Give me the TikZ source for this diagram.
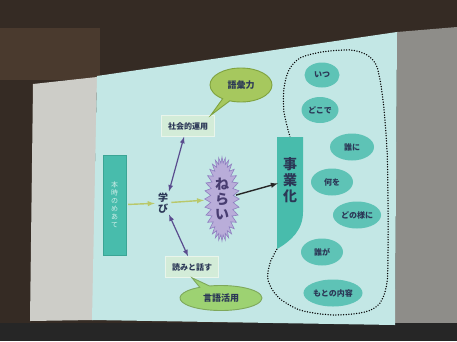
\documentclass[tikz,border=0pt]{standalone}
\usepackage{fontspec}
\setmainfont{Noto Sans CJK JP}
\usepackage{tikz}
\usetikzlibrary{shapes.geometric,shapes.symbols,shapes.callouts,positioning}
\definecolor{room}{HTML}{352B24}
\definecolor{wall}{HTML}{4A3A2E}
\definecolor{board}{HTML}{CDCDC8}
\definecolor{boardside}{HTML}{8E8D89}
\definecolor{slide}{HTML}{C3E7E5}
\definecolor{ink}{HTML}{2B3756}
\definecolor{tealfill}{HTML}{48BCAC}
\definecolor{tealedge}{HTML}{3AA595}
\definecolor{cuefill}{HTML}{5EC3B6}
\definecolor{boxfill}{HTML}{D3ECD8}
\definecolor{bubblefill}{HTML}{A6C85E}
\definecolor{bubbleedge}{HTML}{7FA23E}
\definecolor{lowfill}{HTML}{9DD272}
\definecolor{starfill}{HTML}{B9ADD9}
\definecolor{staredge}{HTML}{8E7FC0}
\definecolor{twin}{HTML}{5A4C8E}
\definecolor{hint}{HTML}{B9C86A}
\definecolor{loop}{HTML}{2F3D66}

\begin{document}
\begin{tikzpicture}[x=1pt, y=-1pt, line width=0.6pt, >=latex,
    every node/.style={font=\fontsize{8}{8.6}\selectfont, text=ink, inner sep=1pt, align=center},
    tealbox/.style={rectangle, fill=tealfill, draw=tealedge, line width=0.4pt},
    wordbox/.style={rectangle, fill=boxfill, draw=white!50!boxfill, minimum width=53pt, minimum height=21pt},
    cue/.style={ellipse, fill=cuefill, minimum width=40pt, minimum height=27pt, font=\fontsize{8}{8.6}\selectfont\bfseries},
    bubble/.style={ellipse callout, draw=bubbleedge, line width=0.9pt, font=\fontsize{9}{9}\selectfont\bfseries},
    flow/.style={->, line width=1.4pt, shorten >=2pt, shorten <=2pt}]
    \useasboundingbox (0,0) rectangle (457,341);

    % Room, whiteboard and screen
    \fill[room] (0,0) rectangle (457,341);
    \fill[wall] (0,28) rectangle (100,80);
    \fill[board] (33,84) -- (97,77) -- (93,320) -- (30,321) -- cycle;
    \fill[boardside] (397,32) -- (457,27) -- (457,324) -- (395,325) -- cycle;
    \fill[black!85] (0,323) rectangle (457,341);
    \fill[slide] (97,76) -- (397,32) -- (395,325) -- (92,320) -- cycle;

    % Left: starting point
    \node[tealbox, minimum width=23pt, minimum height=100pt, font=\fontsize{7}{8}\selectfont, text=white!75!tealfill] (goal) at (114.5,205) {本\\時\\の\\め\\あ\\て};
    \node[font=\fontsize{10}{11}\selectfont\bfseries] (manabi) at (163,203) {学\\び};
    \draw[flow, hint] (goal) -- (manabi);

    % Centre: aim
    \node[starburst, starburst points=32, starburst point height=6pt, random starburst=0, fill=starfill, draw=staredge, minimum width=32pt, minimum height=84pt, font=\fontsize{14}{15}\selectfont\bfseries, text=twin!80!black] (nerai) at (222,199) {ね\\ら\\い};
    \draw[flow, hint] (manabi) -- (nerai);

    % Upper and lower fields
    \node[wordbox, font=\fontsize{8}{8.6}\selectfont\bfseries] (upper) at (188,126) {社会的運用};
    \node[bubble, fill=bubblefill, minimum width=62pt, minimum height=34pt, callout absolute pointer={([xshift=-4pt]upper.north east)}] (skill) at (241,85) {語彙力};
    \node[wordbox, font=\fontsize{8}{8.6}\selectfont\bfseries] (lower) at (192,267) {読みと話す};
    \node[bubble, fill=lowfill, draw=lowfill!80!black, minimum width=82pt, minimum height=25pt, callout absolute pointer={(lower.south)}] (usage) at (221,298) {言語活用};
    \draw[<->, twin, line width=1.2pt] ([xshift=6pt]manabi.north) -- ([xshift=-4pt]upper.south);
    \draw[<->, twin, line width=1.2pt] ([xshift=6pt]manabi.south) -- ([xshift=-4pt]lower.north);

    % Dotted group of questions
    \draw[loop, line width=1.5pt, line cap=round, dash pattern=on 0pt off 2.6pt] plot[smooth] coordinates {(290,137) (284,112) (284,88) (289,70) (300,58) (322,52) (350,50) (367,55) (377,67) (383,100) (387,150) (388,200) (388,250) (387,283) (380,303) (365,312) (333,315) (300,310) (278,297) (268,280) (270,263) (277,249)};

    % Right: tapered box
    \fill[tealfill] (277,137) -- (303,137) -- (303,212) .. controls (303,230) and (291,241) .. (277,249) -- cycle;
    \node[font=\fontsize{14}{16}\selectfont\bfseries, text=ink] (jigyo) at (290,180) {事\\業\\化};
    \draw[flow, black!85, shorten >=4pt] (nerai) -- (jigyo);

    \node[cue, minimum width=35pt, minimum height=25pt] (when) at (322,75) {いつ};
    \node[cue, minimum width=37pt, minimum height=26pt] (where) at (320,110) {どこで};
    \node[cue, minimum width=44pt] (whom) at (352,147) {誰に};
    \node[cue, minimum width=42pt] (what) at (332,182) {何を};
    \node[cue, minimum width=45pt] (how) at (357,215) {どの様に};
    \node[cue, minimum width=42pt] (who) at (322,252) {誰が};
    \node[cue, minimum width=42pt] (source) at (333,293) {もとの内容};
\end{tikzpicture}
\end{document}
